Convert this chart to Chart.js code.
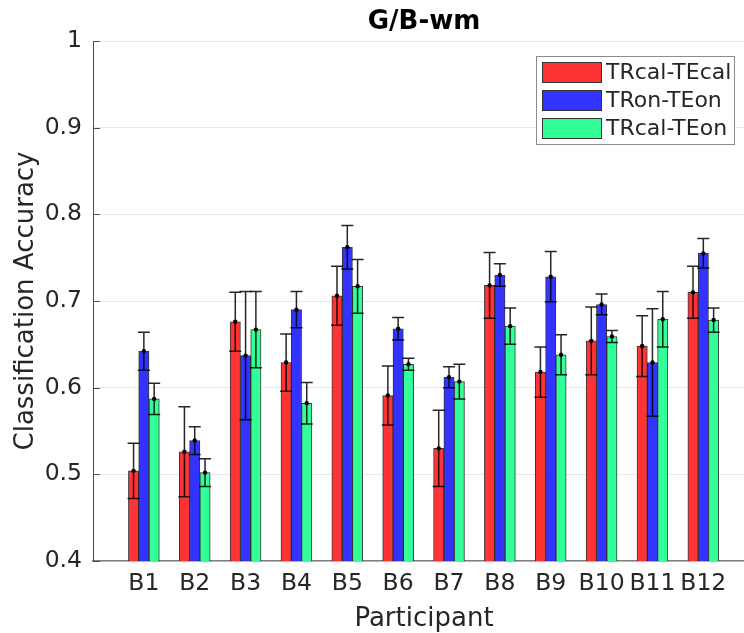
<!DOCTYPE html>
<html>
<head>
<meta charset="utf-8">
<script src="https://cdn.jsdelivr.net/npm/chart.js@4.4.0/dist/chart.umd.min.js"></script>
<style>
  html, body { margin: 0; padding: 0; background: #fff; overflow: hidden; }
  #myChart { display: block; }
</style>
</head>
<body>
<canvas id="myChart" width="744" height="633"></canvas>
<script>
const categories = ['B1', 'B2', 'B3', 'B4', 'B5', 'B6', 'B7', 'B8', 'B9', 'B10', 'B11', 'B12'];
const seriesNames = ['TRcal-TEcal', 'TRon-TEon', 'TRcal-TEon'];

const trcalTecal = [0.504, 0.526, 0.676, 0.629, 0.706, 0.591, 0.530, 0.718, 0.618, 0.654, 0.648, 0.710];
const tronTeon   = [0.642, 0.539, 0.637, 0.690, 0.762, 0.668, 0.612, 0.730, 0.728, 0.696, 0.629, 0.755];
const trcalTeon  = [0.587, 0.502, 0.667, 0.582, 0.717, 0.627, 0.607, 0.671, 0.638, 0.659, 0.679, 0.678];

const errTrcalTecal = [0.032, 0.052, 0.034, 0.033, 0.034, 0.034, 0.044, 0.038, 0.029, 0.039, 0.035, 0.030];
const errTronTeon   = [0.022, 0.016, 0.074, 0.021, 0.025, 0.013, 0.012, 0.013, 0.029, 0.012, 0.062, 0.017];
const errTrcalTeon  = [0.018, 0.016, 0.044, 0.024, 0.031, 0.007, 0.020, 0.021, 0.023, 0.007, 0.032, 0.014];

const yTicks = [0.4, 0.5, 0.6, 0.7, 0.8, 0.9, 1];

const colors = ['#ff3333', '#3333ff', '#33ff99'];
const textColor = '#262626';
const fontFamily = '"DejaVu Sans", sans-serif';

function toPoints(values) {
    return values.map((v, i) => ({ x: i + 1, y: v }));
}

// error bars with caps and a dot on the mean
const errorBarPlugin = {
    id: 'errorBars',
    afterDatasetsDraw(chart) {
        const ctx = chart.ctx;
        const yScale = chart.scales.y;
        chart.data.datasets.forEach((ds, di) => {
            const meta = chart.getDatasetMeta(di);
            meta.data.forEach((bar, i) => {
                const v = ds.data[i].y;
                const e = ds.errors[i];
                const x = bar.x;
                const yTop = yScale.getPixelForValue(v + e);
                const yBot = yScale.getPixelForValue(v - e);
                const yMid = yScale.getPixelForValue(v);
                ctx.save();
                ctx.strokeStyle = 'rgba(0,0,0,0.85)';
                ctx.lineWidth = 1.5;
                ctx.beginPath();
                ctx.moveTo(x, yTop); ctx.lineTo(x, yBot);
                ctx.moveTo(x - 6, yTop); ctx.lineTo(x + 6, yTop);
                ctx.moveTo(x - 6, yBot); ctx.lineTo(x + 6, yBot);
                ctx.stroke();
                ctx.fillStyle = '#000';
                ctx.beginPath();
                ctx.arc(x, yMid, 2.2, 0, Math.PI * 2);
                ctx.fill();
                ctx.restore();
            });
        });
    }
};

// title, axis labels, inward ticks and boxed legend, matlab style
const decorPlugin = {
    id: 'decor',
    afterDraw(chart) {
        const ctx = chart.ctx;
        const area = chart.chartArea;
        const yScale = chart.scales.y;
        ctx.save();

        ctx.strokeStyle = '#4d4d4d';
        ctx.lineWidth = 1;
        yTicks.forEach(t => {
            const y = Math.round(yScale.getPixelForValue(t)) + 0.5;
            ctx.beginPath();
            ctx.moveTo(area.left, y);
            ctx.lineTo(area.left + 7, y);
            ctx.stroke();
        });

        ctx.fillStyle = '#000';
        ctx.font = 'bold 26px ' + fontFamily;
        ctx.textAlign = 'center';
        ctx.textBaseline = 'alphabetic';
        ctx.fillText('G/B-wm', 424, 29);

        ctx.fillStyle = textColor;
        ctx.font = '26px ' + fontFamily;
        ctx.fillText('Participant', 424, 626);

        ctx.save();
        ctx.translate(33, 301);
        ctx.rotate(-Math.PI / 2);
        ctx.fillText('Classification Accuracy', 0, 0);
        ctx.restore();

        // legend box
        const lx = 536, ly = 56, lw = 198, lh = 88;
        ctx.fillStyle = '#fff';
        ctx.fillRect(lx, ly, lw, lh);
        ctx.strokeStyle = '#8c8c8c';
        ctx.strokeRect(lx + 0.5, ly + 0.5, lw, lh);
        ctx.font = '22px ' + fontFamily;
        ctx.textAlign = 'left';
        ctx.textBaseline = 'middle';
        seriesNames.forEach((name, i) => {
            const ry = 62 + i * 28;
            ctx.fillStyle = colors[i];
            ctx.fillRect(542, ry, 60, 21);
            ctx.strokeStyle = '#333';
            ctx.strokeRect(542.5, ry + 0.5, 59, 20);
            ctx.fillStyle = textColor;
            ctx.fillText(name, 606, ry + 11);
        });

        ctx.restore();
    }
};

const ctx = document.getElementById('myChart').getContext('2d');

new Chart(ctx, {
    type: 'bar',
    data: {
        datasets: [
            { label: seriesNames[0], data: toPoints(trcalTecal), errors: errTrcalTecal, backgroundColor: colors[0] },
            { label: seriesNames[1], data: toPoints(tronTeon), errors: errTronTeon, backgroundColor: colors[1] },
            { label: seriesNames[2], data: toPoints(trcalTeon), errors: errTrcalTeon, backgroundColor: colors[2] }
        ]
    },
    options: {
        responsive: false,
        animation: false,
        layout: { padding: { top: 41, right: 0, left: 0, bottom: 0 } },
        datasets: {
            bar: {
                barThickness: 10.3,
                borderColor: 'rgba(20,20,20,0.85)',
                borderWidth: 1,
                borderSkipped: false
            }
        },
        plugins: {
            legend: { display: false },
            tooltip: { enabled: false },
            title: { display: false }
        },
        scales: {
            x: {
                type: 'linear',
                offset: false,
                min: 0,
                max: 12.8,
                afterFit: (scale) => { scale.height = 72; },
                afterBuildTicks: (scale) => { scale.ticks = categories.map((c, i) => ({ value: i + 1 })); },
                grid: { display: false, drawTicks: false },
                border: { display: true, color: '#808080', width: 1.5 },
                ticks: {
                    autoSkip: false,
                    maxRotation: 0,
                    padding: 9,
                    color: textColor,
                    font: { family: fontFamily, size: 23.5 },
                    callback: (v) => categories[v - 1] || ''
                }
            },
            y: {
                min: 0.4,
                max: 1,
                afterFit: (scale) => { scale.width = 93; },
                grid: { color: '#e8e8e8', lineWidth: 1, drawTicks: false },
                border: { display: true, color: '#4d4d4d', width: 1 },
                afterBuildTicks: (scale) => { scale.ticks = yTicks.map(v => ({ value: v })); },
                ticks: {
                    padding: 11,
                    color: textColor,
                    font: { family: fontFamily, size: 23.5 },
                    callback: (v) => String(+v.toFixed(1))
                }
            }
        }
    },
    plugins: [errorBarPlugin, decorPlugin]
});
</script>
</body>
</html>
